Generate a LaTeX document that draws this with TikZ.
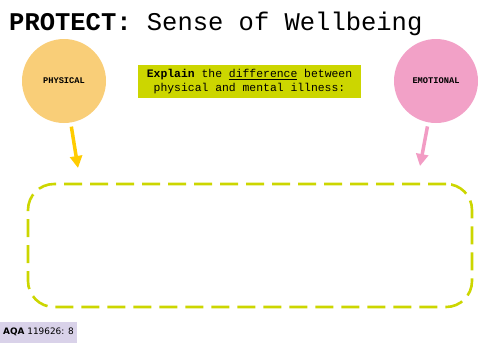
\documentclass[tikz,border=0pt]{standalone}
\usepackage{fontspec}
\setmainfont{Liberation Mono}
\newfontfamily\tagfont{DejaVu Sans}
\usetikzlibrary{arrows.meta, positioning}
\definecolor{physcol}{HTML}{F9CE78}
\definecolor{emocol}{HTML}{F2A1C7}
\definecolor{lime}{HTML}{CCD600}
\definecolor{arrowyel}{HTML}{FFCC00}
\definecolor{arrowpink}{HTML}{F29CC4}
\definecolor{lavender}{HTML}{D9D2E9}
\tikzstyle{topic} = [circle, minimum size=84pt, inner sep=0pt,
                     font=\fontsize{8.7}{10}\selectfont\bfseries]
\tikzstyle{task} = [rectangle, fill=lime, minimum width=223pt, minimum height=33pt,
                    align=center, font=\fontsize{11.4}{14}\selectfont]
\tikzstyle{answer} = [rectangle, rounded corners=26pt, draw=lime, line width=2.6pt,
                      dash pattern=on 18pt off 8pt, minimum width=444pt, minimum height=123pt]
\tikzstyle{arrow} = [-{Triangle[length=12pt, width=12pt]}, line width=3.5pt, shorten <=4pt]

\begin{document}
\begin{tikzpicture}[x=1pt, y=-1pt]
    \useasboundingbox (0,0) rectangle (500,346);

    \node[anchor=base west, inner sep=0pt, font=\fontsize{25.5}{30}\selectfont] (title) at (9,30)
        {\textbf{PROTECT:} Sense of Wellbeing};

    \node[topic, fill=physcol] (phys) at (64,81) {PHYSICAL};
    \node[topic, fill=emocol] (emo) at (436,81) {EMOTIONAL};

    \node[task] (explain) at (249.5,81.5)
        {\textbf{Explain} the \underline{difference} between\\physical and mental illness:};

    \node[answer] (box) at (250,245.5) {};

    \coordinate (physend) at (78,168);
    \coordinate (emoend) at (420,166);
    \draw[arrow, arrowyel] (phys) -- (physend);
    \draw[arrow, arrowpink] (emo) -- (emoend);

    \node[anchor=south west, fill=lavender, inner xsep=3pt, minimum height=21pt,
          font=\tagfont\fontsize{8.9}{11}\selectfont] (tag) at (0,343)
        {\textbf{AQA} 119626: 8};
\end{tikzpicture}
\end{document}
